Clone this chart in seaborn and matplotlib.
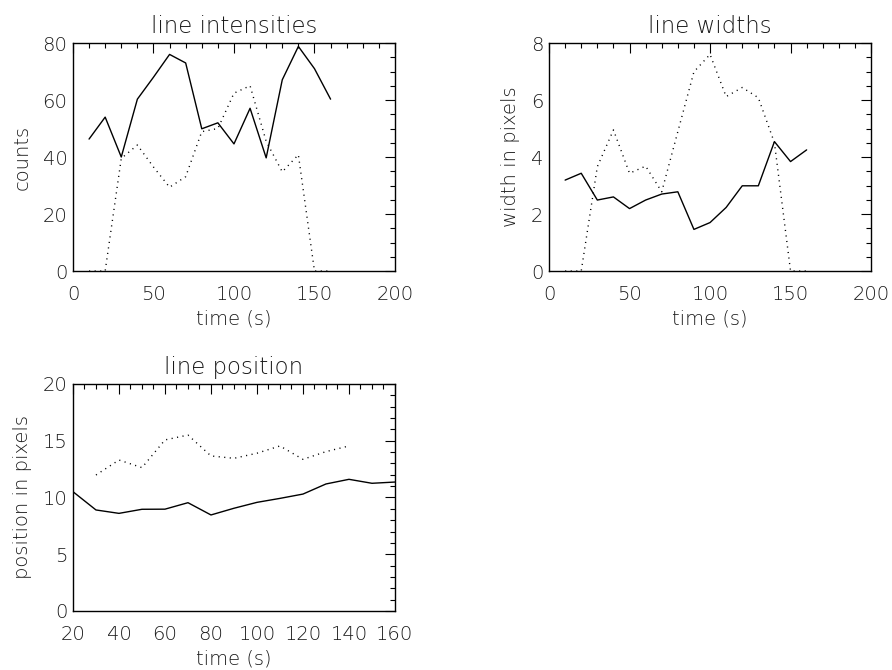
import matplotlib
matplotlib.use("Agg")
import matplotlib.pyplot as plt
from matplotlib.ticker import MultipleLocator
import seaborn as sns
import pandas as pd

# ---- data ----
time_full = [10, 20, 30, 40, 50, 60, 70, 80, 90, 100, 110, 120, 130, 140, 150, 160]
int_solid = [46.3, 54, 40, 60.3, 68, 76, 73, 49.9, 52, 44.6, 57.1, 39.7, 67.1, 78.8, 71, 60.3]
int_dotted = [0, 0, 39.5, 44.2, 36.5, 29.4, 33.1, 48.9, 50, 62.4, 65, 45.5, 34.8, 40.8, 0, 0]

wid_solid = [3.19, 3.43, 2.49, 2.6, 2.19, 2.49, 2.7, 2.78, 1.46, 1.7, 2.23, 2.99, 2.99, 4.54, 3.84, 4.25]
wid_dotted = [0, 0, 3.66, 4.95, 3.43, 3.68, 2.78, 4.89, 6.99, 7.6, 6.12, 6.44, 6.08, 4.5, 0, 0]

time_pos = [20, 30, 40, 50, 60, 70, 80, 90, 100, 110, 120, 130, 140, 150, 160]
pos_solid = [10.51, 8.9, 8.6, 8.96, 8.97, 9.54, 8.46, 9.05, 9.57, 9.92, 10.3, 11.19, 11.6, 11.25, 11.36]
time_pos_dot = [30, 40, 50, 60, 70, 80, 90, 100, 110, 120, 130, 140]
pos_dotted = [11.98, 13.3, 12.63, 15.07, 15.5, 13.66, 13.45, 13.9, 14.54, 13.36, 14.04, 14.54]

titles = ["line intensities", "line widths", "line position"]
ylabels = ["counts", "width in pixels", "position in pixels"]
xlabel = "time (s)"

sns.set_style("white")
plt.rcParams["font.family"] = ["DejaVu Sans"]
plt.rcParams["font.weight"] = "light"
plt.rcParams["axes.titleweight"] = "light"
plt.rcParams["axes.labelweight"] = "light"
TXT = "#1a1a1a"
FS = 14

fig = plt.figure(figsize=(8.92, 6.70), dpi=100)
ax1 = fig.add_axes([0.0818, 0.5955, 0.3610, 0.3403])
ax2 = fig.add_axes([0.6155, 0.5955, 0.3610, 0.3403])
ax3 = fig.add_axes([0.0818, 0.0881, 0.3610, 0.3388])


def draw(ax, x1, y1, x2, y2):
    d1 = pd.DataFrame({"t": x1, "v": y1})
    d2 = pd.DataFrame({"t": x2, "v": y2})
    sns.lineplot(data=d1, x="t", y="v", ax=ax, color="black", lw=1.0)
    sns.lineplot(data=d2, x="t", y="v", ax=ax, color="black", lw=1.0,
                 linestyle=(0, (0.8, 3.2)))


draw(ax1, time_full, int_solid, time_full, int_dotted)
draw(ax2, time_full, wid_solid, time_full, wid_dotted)
draw(ax3, time_pos, pos_solid, time_pos_dot, pos_dotted)

specs = [
    (ax1, (0, 200), (0, 80), 50, 10, 20, 5),
    (ax2, (0, 200), (0, 8), 50, 10, 2, 0.5),
    (ax3, (20, 160), (0, 20), 20, 5, 5, 1),
]
for (ax, xl, yl, xM, xm, yM, ym), t, yl_txt in zip(specs, titles, ylabels):
    ax.set_xlim(*xl)
    ax.set_ylim(*yl)
    ax.xaxis.set_major_locator(MultipleLocator(xM))
    ax.xaxis.set_minor_locator(MultipleLocator(xm))
    ax.yaxis.set_major_locator(MultipleLocator(yM))
    ax.yaxis.set_minor_locator(MultipleLocator(ym))
    ax.tick_params(which="both", direction="in", top=True, right=True,
                   color="black", width=0.8, labelsize=FS, labelcolor=TXT)
    ax.tick_params(which="major", length=7)
    ax.tick_params(which="minor", length=3.5)
    ax.tick_params(axis="x", which="major", pad=10)
    ax.tick_params(axis="y", which="major", pad=4)
    for s in ax.spines.values():
        s.set_color("black")
        s.set_linewidth(1.0)
        s.set_visible(True)
    ax.set_title(t, fontsize=16.5, color=TXT, pad=7, fontweight="light")
    ax.set_xlabel(xlabel, fontsize=FS, color=TXT, labelpad=4, fontweight="light")
    ax.set_ylabel(yl_txt, fontsize=FS, color=TXT, labelpad=8, fontweight="light")

fig.savefig("out.png", dpi=100)
